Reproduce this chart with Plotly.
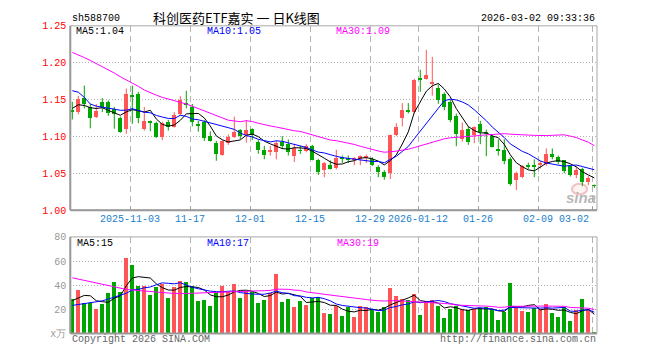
import plotly.graph_objects as go

# ---------------- data ----------------
opens = [1.1355, 1.133, 1.152, 1.140, 1.127, 1.1465, 1.1465, 1.137, 1.125, 1.1105,
         1.157, 1.158, 1.1105, 1.1215, 1.118, 1.100, 1.120, 1.1136, 1.130, 1.146,
         1.140, 1.1167, 1.120, 1.1004, 1.0917, 1.0754, 1.0917, 1.0996, 1.1083, 1.1026,
         1.110, 1.0925, 1.082, 1.0785, 1.0798, 1.0925, 1.0903, 1.0741, 1.081, 1.0807,
         1.0873, 1.0684, 1.0553, 1.061, 1.0575, 1.0711, 1.0711, 1.0684, 1.0697, 1.0719,
         1.0697, 1.0588, 1.0522, 1.050, 1.1018, 1.1246, 1.136, 1.1333, 1.1794, 1.1781,
         1.1716, 1.1662, 1.1583, 1.1465, 1.1281, 1.0974, 1.1101, 1.1018, 1.1175, 1.1061,
         1.1004, 1.0824, 1.082, 1.0697, 1.0412, 1.0447, 1.0605, 1.0605, 1.062, 1.0623,
         1.0763, 1.0728, 1.0676, 1.0596, 1.0478, 1.0566, 1.0391, 1.0338]
highs = [1.147, 1.155, 1.169, 1.144, 1.144, 1.152, 1.149, 1.140, 1.127, 1.165,
         1.169, 1.1605, 1.140, 1.1215, 1.120, 1.120, 1.1225, 1.133, 1.1545, 1.162,
         1.144, 1.121, 1.122, 1.107, 1.094, 1.0947, 1.1026, 1.1268, 1.110, 1.1224,
         1.111, 1.0955, 1.0873, 1.0873, 1.0939, 1.1004, 1.096, 1.0895, 1.0873, 1.0895,
         1.0886, 1.0697, 1.0653, 1.0675, 1.082, 1.0741, 1.0741, 1.072, 1.0741, 1.0754,
         1.0719, 1.061, 1.0544, 1.1026, 1.118, 1.1452, 1.1452, 1.1781, 1.1904, 1.2175,
         1.2079, 1.1706, 1.1596, 1.150, 1.1311, 1.1189, 1.1136, 1.1136, 1.1211, 1.1092,
         1.1026, 1.0961, 1.0961, 1.0719, 1.0522, 1.061, 1.0645, 1.0689, 1.0667, 1.0837,
         1.0837, 1.0741, 1.0676, 1.061, 1.0588, 1.0575, 1.0465, 1.0347]
lows = [1.123, 1.130, 1.138, 1.111, 1.125, 1.133, 1.128, 1.1105, 1.105, 1.1035,
        1.117, 1.118, 1.108, 1.107, 1.098, 1.095, 1.108, 1.112, 1.128, 1.138,
        1.1136, 1.1065, 1.094, 1.093, 1.067, 1.074, 1.0886, 1.098, 1.0965, 1.0917,
        1.095, 1.0765, 1.069, 1.074, 1.069, 1.0829, 1.0741, 1.0653, 1.0763, 1.0785,
        1.0675, 1.0478, 1.0447, 1.0553, 1.0553, 1.064, 1.064, 1.061, 1.061, 1.064,
        1.0597, 1.0447, 1.0412, 1.0421, 1.1004, 1.1136, 1.1311, 1.1311, 1.1605, 1.1772,
        1.1553, 1.1443, 1.1355, 1.1193, 1.0868, 1.093, 1.0886, 1.0908, 1.0895, 1.0732,
        1.0851, 1.0741, 1.0623, 1.0333, 1.0272, 1.0434, 1.0557, 1.0447, 1.0566, 1.0601,
        1.0689, 1.0623, 1.050, 1.0456, 1.0434, 1.0325, 1.0338, 1.0303]
closes = [1.1345, 1.151, 1.144, 1.125, 1.135, 1.140, 1.1325, 1.130, 1.106, 1.158,
          1.155, 1.125, 1.1215, 1.118, 1.099, 1.118, 1.1136, 1.129, 1.1496, 1.143,
          1.120, 1.1145, 1.098, 1.0947, 1.0763, 1.0939, 1.0996, 1.1061, 1.1004, 1.1083,
          1.1018, 1.082, 1.0754, 1.082, 1.0908, 1.0873, 1.0785, 1.0851, 1.0805, 1.0873,
          1.0684, 1.0522, 1.064, 1.0557, 1.0711, 1.070, 1.0676, 1.0711, 1.0733, 1.0741,
          1.0618, 1.0522, 1.0456, 1.1018, 1.1136, 1.1355, 1.1346, 1.1772, 1.1763, 1.1829,
          1.1728, 1.150, 1.1399, 1.1224, 1.1035, 1.1083, 1.093, 1.1127, 1.1061, 1.1048,
          1.0864, 1.0816, 1.0667, 1.036, 1.0509, 1.0596, 1.060, 1.060, 1.0623, 1.0763,
          1.0719, 1.0653, 1.0535, 1.0478, 1.0553, 1.0391, 1.0434, 1.0334]
volumes = [28.8, 36.0, 25.3, 25.3, 20.0, 24.8, 33.6, 42.4, 34.4, 62.4,
           56.8, 39.2, 39.2, 32.0, 38.4, 40.8, 29.6, 38.4, 43.2, 42.4,
           39.2, 27.2, 28.0, 23.2, 34.4, 39.2, 34.4, 40.8, 29.6, 35.2,
           34.4, 25.6, 28.0, 33.6, 49.6, 26.4, 28.8, 21.6, 27.2, 24.0,
           29.6, 30.4, 16.8, 16.0, 23.2, 14.4, 21.6, 13.9, 23.2, 21.6,
           20.0, 17.6, 21.6, 37.6, 31.2, 28.8, 28.0, 32.8, 15.2, 27.2,
           28.0, 22.4, 12.8, 20.0, 23.2, 20.0, 19.2, 20.0, 20.8, 21.6,
           20.0, 11.2, 17.6, 41.6, 20.8, 18.4, 17.6, 20.8, 20.0, 24.8,
           16.8, 13.6, 21.6, 10.4, 19.2, 28.8, 20.0, 0.8]

tick_index = [10, 20, 30, 40, 50, 58, 68, 78, 87]
tick_labels = ["2025-11-03", "11-17", "12-01", "12-15", "12-29",
               "2026-01-12", "01-26", "02-09", "03-02"]
price_ticks = [1.00, 1.05, 1.10, 1.15, 1.20, 1.25]
vol_ticks = [0, 20, 40, 60, 80]
vol_tick_text = ["x万", "20", "40", "60", "80"]

# moving-average values before enough visible history exists
ma5_head = [1.138, 1.143, 1.142, 1.139]
ma10_head = [1.162, 1.160, 1.153, 1.144, 1.141, 1.140, 1.1386, 1.137, 1.1355]
ma30_head = [1.214, 1.211, 1.207, 1.203, 1.199, 1.195, 1.190, 1.186, 1.181, 1.177,
             1.173, 1.168, 1.163, 1.159, 1.156, 1.153, 1.151, 1.148, 1.146, 1.144,
             1.141, 1.138, 1.135, 1.132, 1.128, 1.125, 1.122, 1.121, 1.120]
vma5_head = [27.2, 29.3, 31.5, 31.2]
vma10_head = [23.2, 24.0, 25.0, 25.5, 26.0, 27.0, 28.5, 30.0, 31.5]
vma30_head = [46.1, 45.0, 43.8, 42.7, 41.5, 40.5, 39.5, 38.7, 37.5, 36.5,
              36.0, 35.5, 35.2, 34.8, 34.3, 33.9, 33.5, 33.2, 33.0, 33.1,
              33.3, 33.5, 33.8, 34.0, 34.3, 34.6, 34.7, 34.8, 34.9]


def moving_avg(values, n, head):
    out = list(head)
    for i in range(len(head), len(values)):
        out.append(sum(values[i - n + 1:i + 1]) / n)
    return out


N = len(closes)
xs = list(range(N))
UP = "#ff5555"
DOWN = "#00a600"
is_up = [c > o for o, c in zip(opens, closes)]
colors = [UP if u else DOWN for u in is_up]

ma5 = moving_avg(closes, 5, ma5_head)
ma10 = moving_avg(closes, 10, ma10_head)
ma30 = moving_avg(closes, 30, ma30_head)
vma5 = moving_avg(volumes, 5, vma5_head)
vma10 = moving_avg(volumes, 10, vma10_head)
vma30 = moving_avg(volumes, 30, vma30_head)

fig = go.Figure()

# wicks
for col, flag in ((UP, True), (DOWN, False)):
    wx, wy = [], []
    for i in xs:
        if is_up[i] == flag:
            wx += [i, i, None]
            wy += [lows[i], highs[i], None]
    fig.add_trace(go.Scatter(x=wx, y=wy, mode="lines", line=dict(color=col, width=1),
                             hoverinfo="skip", xaxis="x", yaxis="y"))

# bodies
base = [min(o, c) for o, c in zip(opens, closes)]
height = [max(abs(c - o), 0.0009) for o, c in zip(opens, closes)]
fig.add_trace(go.Bar(x=xs, y=height, base=base, width=0.8,
                     marker=dict(color=colors, line=dict(width=0)),
                     xaxis="x", yaxis="y"))

for vals, col in ((ma5, "#000000"), (ma10, "#0000ff"), (ma30, "#ff00ff")):
    fig.add_trace(go.Scatter(x=xs, y=vals, mode="lines", line=dict(color=col, width=1),
                             xaxis="x", yaxis="y"))

# volume
fig.add_trace(go.Bar(x=xs, y=volumes, width=0.82,
                     marker=dict(color=colors, line=dict(width=0)),
                     xaxis="x2", yaxis="y2"))
for vals, col in ((vma5, "#000000"), (vma10, "#0000ff"), (vma30, "#ff00ff")):
    fig.add_trace(go.Scatter(x=xs, y=vals, mode="lines", line=dict(color=col, width=1),
                             xaxis="x2", yaxis="y2"))

# the page body has an 8px margin, so the figure is drawn 8px in from the corner
OFF = 8
W, H = 660 - 2 * OFF, 360 - 2 * OFF
L, R = 70.3, 597.0          # screen pixels
PT, PB = 21.3, 212.3
VT, VB = 240.0, 340.0
px = lambda v: (v - OFF) / W
py = lambda v: 1 - (v - OFF) / H
MONO = "Liberation Mono, DejaVu Sans Mono, monospace"
GRID = "#b4b4b4"
xr = [(L - 72.3) / 6.0, (R - 72.3) / 6.0]
grid_x = [t - 0.38 for t in tick_index]

fig.update_layout(
    width=W, height=H, margin=dict(l=0, r=0, t=0, b=0, pad=0),
    paper_bgcolor="white", plot_bgcolor="white", showlegend=False,
    bargap=0, font=dict(family=MONO, size=10, color="#000"),
    xaxis=dict(domain=[px(L), px(R)], range=xr, anchor="y",
               tickvals=grid_x, showticklabels=False, ticks="inside", ticklen=3,
               tickcolor="#999", showgrid=True, gridcolor=GRID, griddash="6px,4px",
               zeroline=False, showline=False, fixedrange=True),
    yaxis=dict(domain=[py(PB), py(PT)], range=[1.0, 1.25], anchor="x",
               tickvals=price_ticks, ticktext=["%.2f" % v for v in price_ticks],
               tickfont=dict(family=MONO, size=10, color="#ff0000"),
               showgrid=True, gridcolor=GRID, griddash="1px,2px", zeroline=False,
               ticks="", ticklabelstandoff=3, showline=False),
    xaxis2=dict(domain=[px(L), px(R)], range=xr, anchor="y2",
                tickvals=grid_x, showticklabels=False, ticks="",
                showgrid=True, gridcolor=GRID, griddash="6px,4px",
                zeroline=False, showline=False),
    yaxis2=dict(domain=[py(VB), py(VT)], range=[0, 80], anchor="x2",
                tickvals=vol_ticks, ticktext=vol_tick_text,
                tickfont=dict(family=MONO, size=10, color="#999999"),
                showgrid=True, gridcolor=GRID, griddash="1px,2px", zeroline=False,
                ticks="", ticklabelstandoff=3, showline=False),
)

shapes = []
for top, bot in ((PT, PB), (VT, VB)):
    shapes.append(dict(type="rect", xref="paper", yref="paper", x0=px(L), x1=px(R),
                       y0=py(bot), y1=py(top), line=dict(color="#a8a8a8", width=1)))
    shapes.append(dict(type="line", xref="paper", yref="paper", x0=px(L), x1=px(L),
                       y0=py(bot), y1=py(top), line=dict(color="#999", width=2)))
    shapes.append(dict(type="line", xref="paper", yref="paper", x0=px(L), x1=px(R),
                       y0=py(bot), y1=py(bot), line=dict(color="#999", width=2)))
# faint sina logo
shapes.append(dict(type="circle", xref="paper", yref="paper", x0=px(572), x1=px(587),
                   y0=py(196), y1=py(185), line=dict(color="rgba(230,150,150,0.55)", width=2),
                   fillcolor="rgba(250,220,220,0.35)", layer="below"))
fig.update_layout(shapes=shapes)

ann = []


def text(x, y, s, color="#000", size=10, anchor="left", family=MONO, **kw):
    ann.append(dict(x=px(x), y=py(y), xref="paper", yref="paper", text=s,
                    showarrow=False, xanchor=anchor, yanchor="middle",
                    font=dict(family=family, size=size, color=color), **kw))


text(70, 13.5, "sh588700")
text(237, 12.5, "科创医药ETF嘉实 一 日K线图", size=13, anchor="center",
     family="Noto Sans CJK SC, sans-serif")
text(597, 13.5, "2026-03-02 09:33:36", anchor="right")
text(74, 27, "MA5:%.2f" % ma5[-1], color="#000000")
text(205, 27, "MA10:%.2f" % ma10[-1], color="#0000ff")
text(334, 27, "MA30:%.2f" % ma30[-1], color="#ff00ff")
text(75, 246.5, "MA5:%d" % int(vma5[-1]), color="#000000")
text(205, 246.5, "MA10:%d" % int(vma10[-1]), color="#0000ff")
text(335, 246.5, "MA30:%d" % int(vma30[-1]), color="#ff00ff")
text(70, 346, "Copyright 2026 SINA.COM", color="#666666")
text(598, 346, "http://finance.sina.com.cn", color="#666666", anchor="right")
text(581, 199, "<b><i>sina</i></b>", color="rgba(170,170,170,0.85)", size=15,
     anchor="center", family="Liberation Sans, Arial, sans-serif")

for t, lab in zip(tick_index, tick_labels):
    anchor = "right" if t == tick_index[-1] else "center"
    xpos = 72.3 + 6 * (t - 0.38)
    if anchor == "right":
        xpos = xpos - 1
    text(xpos, 221.5, lab, color="#1a7fcc", anchor=anchor)

fig.update_layout(annotations=ann)
fig.write_html("out.html")
